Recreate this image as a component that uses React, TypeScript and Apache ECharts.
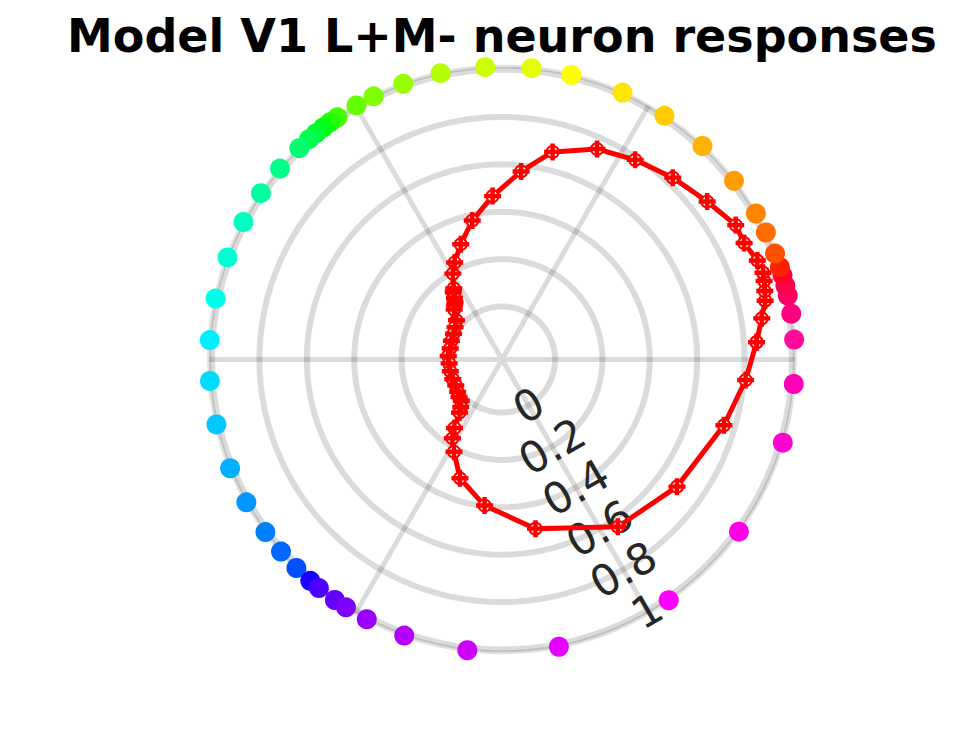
import React, { useEffect, useRef } from "react";
import * as echarts from "echarts";

// Stimulus directions (degrees, counter-clockwise from the right)
const angles = [
  3.9, 9.0, 12.6, 14.6, 16.7, 18.4, 21.2, 25.7, 29.9, 37.6,
  46.8, 56.3, 65.7, 76.3, 84.2, 93.3, 102.1, 109.7, 116.0, 119.8,
  124.2, 125.9, 127.6, 129.4, 131.2, 133.8, 139.3, 145.4, 152.0, 159.6,
  168.0, 176.2, 184.2, 192.8, 201.8, 209.2, 216.1, 221.0, 225.4, 229.1,
  231.3, 235.2, 237.8, 242.5, 250.5, 263.2, 281.2, 304.7, 324.0, 343.5,
  355.2,
];

// Normalised neuron responses at each direction
const responses = [
  0.853, 0.886, 0.914, 0.922, 0.931, 0.937, 0.932, 0.91, 0.914, 0.869,
  0.829, 0.789, 0.751, 0.678, 0.574, 0.467, 0.376, 0.293, 0.232, 0.194,
  0.139, 0.127, 0.105, 0.089, 0.08, 0.068, 0.03, 0.017, 0.008, 0.004,
  0.0, 0.004, 0.0, 0.0, 0.0, 0.0, 0.008, 0.017, 0.021, 0.042,
  0.063, 0.128, 0.169, 0.215, 0.308, 0.397, 0.504, 0.635, 0.689, 0.753,
  0.808,
];

// Colour of each stimulus dot on the outer ring
const dotColors = [
  "#ff0a9a", "#ff0080", "#ff0066", "#ff004d", "#ff0030", "#ff2000", "#ff5000", "#ff6c00", "#ff8400", "#ff9c00",
  "#ffb300", "#ffcc00", "#ffe600", "#ffff00", "#e6ff00", "#ccff00", "#b3ff00", "#99ff00", "#80ff00", "#66ff00",
  "#40ff00", "#20ff00", "#00ff10", "#00ff30", "#00ff50", "#00ff70", "#00ff88", "#00ffa0", "#00ffc0", "#00ffd4",
  "#00ffea", "#00f0ff", "#00dcff", "#00c8ff", "#00b0ff", "#0098ff", "#0080ff", "#0068ff", "#0050ff", "#1a00ff",
  "#4d00ff", "#6600ff", "#8000ff", "#9900ff", "#b300ff", "#cc00ff", "#e600ff", "#ff00ff", "#ff00e6", "#ff00d0",
  "#ff00b8",
];

const radialTicks = [0, 0.2, 0.4, 0.6, 0.8, 1];
const radialTickLabels = ["0", "0.2", "0.4", "0.6", "0.8", "1"];
const radialMin = -0.2236;
const dotRadius = 1.012;
const labelAngle = 300;
const title = "Model V1 L+M- neuron responses";

const GRID = "rgba(0,0,0,0.14)";

export default function App() {
  const ref = useRef<HTMLDivElement>(null);
  useEffect(() => {
    if (!ref.current) return;
    const chart = echarts.init(ref.current, undefined, { renderer: "svg" });
    const ringAngles: number[] = [];
    for (let a = 0; a <= 360; a += 3) ringAngles.push(a);

    const ringSeries = radialTicks.map((r) => ({
      type: "line",
      coordinateSystem: "polar",
      data: ringAngles.map((a) => [r, a]),
      symbol: "none",
      silent: true,
      z: 1,
      lineStyle: { color: GRID, width: 6 },
    }));

    const curve = angles.map((a, i) => [responses[i], a]);
    curve.push(curve[0]);

    // pixel radius of r = 1 is 290; extend to the dot ring
    const outerPx = (290 * (dotRadius - radialMin)) / (1 - radialMin);

    const option: any = {
      animation: false,
      title: {
        text: title,
        left: 62,
        top: 8,
        textStyle: {
          fontSize: 46,
          fontWeight: "bold",
          fontFamily: "DejaVu Sans",
          color: "#000",
        },
      },
      polar: { center: [502, 359.5], radius: outerPx },
      angleAxis: {
        type: "value",
        min: 0,
        max: 360,
        interval: 60,
        startAngle: 0,
        clockwise: false,
        axisLine: { show: true, lineStyle: { color: "rgba(0,0,0,0.12)", width: 4 } },
        axisTick: { show: false },
        axisLabel: { show: false },
        splitLine: { show: true, lineStyle: { color: GRID, width: 5 } },
      },
      radiusAxis: {
        type: "value",
        min: radialMin,
        max: dotRadius,
        axisLine: { show: false },
        axisTick: { show: false },
        axisLabel: { show: false },
        splitLine: { show: false },
      },
      series: [
        ...ringSeries,
        {
          type: "scatter",
          coordinateSystem: "polar",
          data: radialTicks.map((r) => [r, labelAngle]),
          symbolSize: 1,
          itemStyle: { color: "rgba(0,0,0,0)", opacity: 1 },
          silent: true,
          z: 2,
          label: {
            show: true,
            position: "inside",
            rotate: 30,
            fontSize: 43,
            fontFamily: "DejaVu Sans",
            color: "#262626",
            opacity: 1,
            formatter: (p: any) => radialTickLabels[p.dataIndex],
          },
        },
        {
          type: "line",
          coordinateSystem: "polar",
          data: curve,
          z: 3,
          lineStyle: { color: "#ff0000", width: 5 },
          symbol: "emptyCircle",
          symbolSize: 12,
          itemStyle: { color: "#ff0000", borderWidth: 4.5 },
        },
        {
          type: "scatter",
          coordinateSystem: "polar",
          data: curve,
          z: 4,
          symbol: "path://M3.7 0h2.6v3.7h3.7v2.6H6.3v3.7H3.7V6.3H0V3.7h3.7z",
          symbolSize: 17,
          itemStyle: { color: "#ff0000", opacity: 1 },
        },
        {
          type: "scatter",
          coordinateSystem: "polar",
          z: 5,
          symbolSize: 20,
          data: angles.map((a, i) => ({
            value: [dotRadius, a],
            itemStyle: { color: dotColors[i], opacity: 1 },
          })),
        },
      ],
    };
    chart.setOption(option);
    return () => chart.dispose();
  }, []);
  return (
    <div
      ref={ref}
      style={{ position: "absolute", left: 0, top: 0, width: 969, height: 734 }}
    />
  );
}
